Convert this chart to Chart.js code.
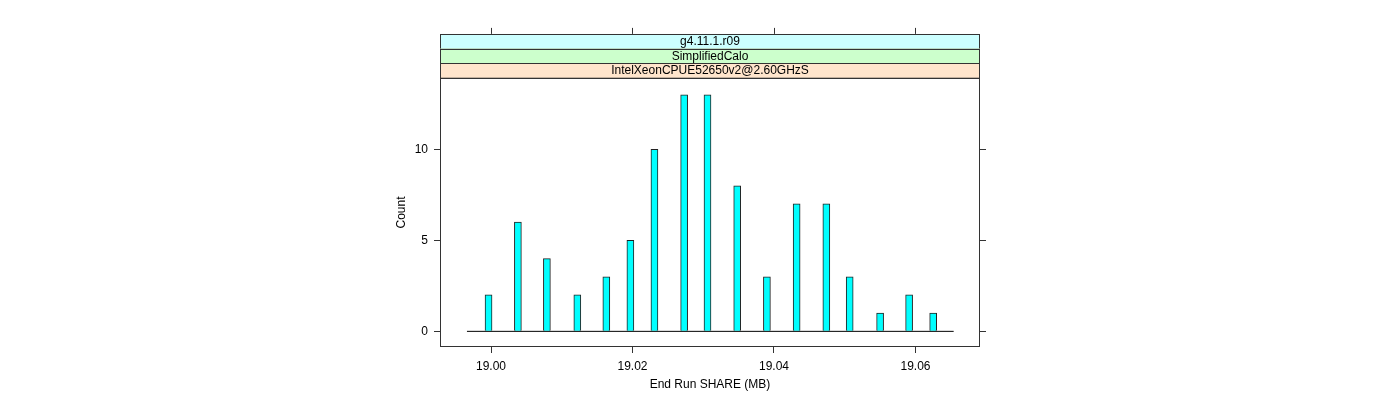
<!DOCTYPE html>
<html>
<head>
<meta charset="utf-8">
<script src="https://cdn.jsdelivr.net/npm/chart.js@4"></script>
<style>
  html, body { margin: 0; padding: 0; background: #fff; }
  #wrap { width: 1400px; height: 400px; }
</style>
</head>
<body>
<div id="wrap"><canvas id="myChart" width="1400" height="400"></canvas></div>
<script>
// histogram bins (centre of each non-empty bin) and their counts
var binCenters = [18.99965, 19.0038, 19.0079, 19.0122, 19.0163, 19.0197, 19.0231, 19.0273, 19.0306,
                  19.0348, 19.0390, 19.0432, 19.0474, 19.0507, 19.0550, 19.0591, 19.0625];
var counts = [2, 6, 4, 2, 3, 5, 10, 13, 13, 8, 3, 7, 7, 3, 1, 2, 1];
// histogram range (zero-height bins show up as the base line)
var histRange = [18.9966, 19.0654];
var xTicks = [19.00, 19.02, 19.04, 19.06];
var yTicks = [0, 5, 10];
var strips = ['g4.11.1.r09', 'SimplifiedCalo', 'IntelXeonCPUE52650v2@2.60GHzS'];
var stripColors = ['#ccffff', '#ccffcc', '#ffe5cc'];

var FONT = '"Liberation Sans", Arial, sans-serif';
var LINE = '#333';

var latticePlugin = {
    id: 'lattice',
    afterDraw: function (chart) {
        var ctx = chart.ctx;
        var a = chart.chartArea;
        var xs = chart.scales.x, ys = chart.scales.y;
        var stripH = 14.7;
        ctx.save();
        ctx.lineWidth = 1;
        ctx.strokeStyle = LINE;
        // strips
        for (var i = 0; i < strips.length; i++) {
            var top = a.top - stripH * (strips.length - i);
            ctx.fillStyle = stripColors[i];
            ctx.fillRect(a.left, top, a.right - a.left, stripH);
            ctx.strokeRect(a.left + 0.5, Math.round(top) + 0.5, a.right - a.left - 1, stripH);
            ctx.fillStyle = '#000';
            ctx.font = '12px ' + FONT;
            ctx.textAlign = 'center';
            ctx.textBaseline = 'middle';
            ctx.fillText(strips[i], (a.left + a.right) / 2, top + stripH / 2 + 0.5);
        }
        // panel box
        ctx.strokeRect(a.left + 0.5, a.top + 0.5, a.right - a.left - 1, a.bottom - a.top - 1);
        // top ticks above strips
        var stripTop = a.top - stripH * strips.length;
        ctx.beginPath();
        xTicks.forEach(function (v) {
            var px = Math.round(xs.getPixelForValue(v)) + 0.5;
            ctx.moveTo(px, stripTop);
            ctx.lineTo(px, stripTop - 6);
        });
        // right ticks
        yTicks.forEach(function (v) {
            var py = Math.round(ys.getPixelForValue(v)) + 0.5;
            ctx.moveTo(a.right, py);
            ctx.lineTo(a.right + 6, py);
        });
        ctx.stroke();
        ctx.restore();
    }
};

var ctx = document.getElementById('myChart');
var chart = new Chart(ctx, {
    type: 'bar',
    data: {
        datasets: [{
            type: 'line',
            data: [{ x: histRange[0], y: 0 }, { x: histRange[1], y: 0 }],
            borderColor: '#000',
            borderWidth: 1,
            pointRadius: 0
        }, {
            data: binCenters.map(function (x, i) { return { x: x, y: counts[i] }; }),
            backgroundColor: '#00ffff',
            borderColor: '#222',
            borderWidth: 1,
            borderSkipped: 'start',
            barThickness: 7,
            grouped: false
        }]
    },
    options: {
        responsive: false,
        animation: false,
        devicePixelRatio: 1,
        layout: { padding: { left: 388, right: 420, top: 78, bottom: 0 } },
        plugins: {
            legend: { display: false },
            tooltip: { enabled: false }
        },
        scales: {
            x: {
                type: 'linear',
                offset: false,
                min: 18.99279,
                max: 19.06912,
                afterBuildTicks: function (s) { s.ticks = xTicks.map(function (v) { return { value: v }; }); },
                afterFit: function (s) { s.height = 53; },
                grid: { offset: false, drawOnChartArea: false, tickLength: 6, color: LINE },
                border: { display: false },
                ticks: {
                    maxRotation: 0,
                    padding: 6,
                    color: '#000',
                    font: { family: FONT, size: 12 },
                    callback: function (v) { return v.toFixed(2); }
                },
                title: {
                    display: true,
                    text: 'End Run SHARE (MB)',
                    color: '#000',
                    font: { family: FONT, size: 12 },
                    padding: { top: 0, bottom: 8 }
                }
            },
            y: {
                min: -0.86,
                max: 13.92,
                afterBuildTicks: function (s) { s.ticks = yTicks.map(function (v) { return { value: v }; }); },
                afterFit: function (s) { s.width = 52; },
                grid: { drawOnChartArea: false, tickLength: 6, color: LINE },
                border: { display: false },
                ticks: {
                    padding: 6,
                    color: '#000',
                    font: { family: FONT, size: 12 }
                },
                title: {
                    display: true,
                    text: 'Count',
                    color: '#000',
                    font: { family: FONT, size: 12 },
                    padding: { top: 6, bottom: 0 }
                }
            }
        }
    },
    plugins: [latticePlugin]
});
</script>
</body>
</html>
